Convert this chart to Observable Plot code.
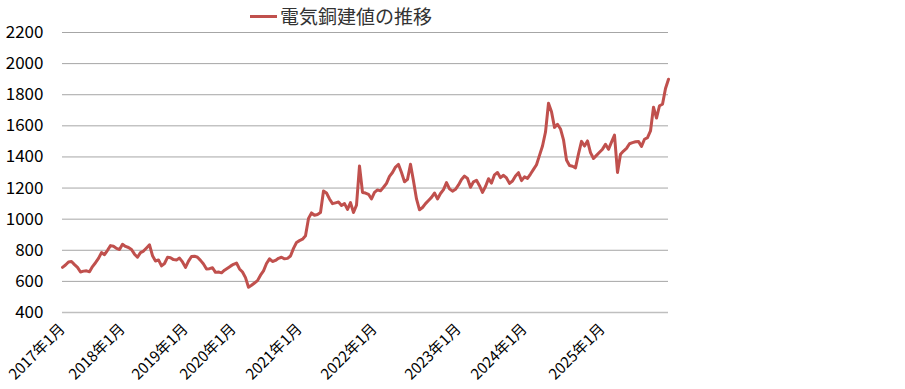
<!DOCTYPE html>
<html><head><meta charset="utf-8">
<script src="https://cdn.jsdelivr.net/npm/d3@7"></script>
<script src="https://cdn.jsdelivr.net/npm/@observablehq/plot@0.6"></script>
<style>
body{margin:0;background:#fff;font-family:"Noto Sans CJK JP","Noto Sans",sans-serif;}
#wrap{position:relative;width:905px;height:389px;}
#legend{position:absolute;left:250px;top:2px;height:28px;display:flex;align-items:center;font-size:19px;color:#333;line-height:28px;white-space:nowrap;}
#legend .sw{display:inline-block;width:27px;height:3px;background:#c0504d;margin-right:3px;}
#chart{position:absolute;left:0;top:0;}
</style></head><body>
<div id="wrap">
<div id="chart"></div>
<div id="legend"><span class="sw"></span><span>電気銅建値の推移</span></div>
</div>
<script>
const seriesName = "電気銅建値の推移";
const prices = [
690,705,725,728,708,690,660,666,668,662,
695,720,748,785,772,800,830,826,812,805,
838,825,818,805,775,755,785,795,815,835,
765,731,738,700,715,755,752,740,738,750,
725,690,730,760,762,755,735,712,680,682,
688,658,660,655,672,685,698,710,718,680,
660,624,562,575,590,605,640,668,715,745,
728,735,748,755,745,748,763,812,850,862,
871,893,1005,1040,1025,1030,1043,1181,1168,1130,
1100,1105,1110,1088,1100,1063,1106,1043,1090,1342,
1172,1168,1160,1130,1172,1188,1182,1205,1230,1275,
1300,1335,1352,1300,1240,1256,1353,1245,1130,1060,
1075,1100,1120,1140,1168,1130,1165,1190,1235,1195,
1180,1192,1220,1255,1277,1262,1205,1240,1250,1215,
1172,1210,1260,1232,1285,1300,1267,1282,1265,1230,
1245,1277,1299,1248,1272,1262,1290,1320,1350,1410,
1470,1560,1745,1690,1590,1610,1580,1510,1380,1345,
1340,1330,1420,1500,1470,1503,1428,1390,1410,1430,
1450,1481,1449,1495,1540,1300,1417,1438,1455,1485,
1492,1498,1500,1468,1514,1524,1567,1720,1650,1729,
1739,1840,1900
];
const xTickIndex = [0, 20, 41, 57, 79, 104, 132, 154, 180];
const xTickLabels = ["2017年1月","2018年1月","2019年1月","2020年1月","2021年1月","2022年1月","2023年1月","2024年1月","2025年1月"];
const yTicks = [400,600,800,1000,1200,1400,1600,1800,2000,2200];

const chart = Plot.plot({
  width: 905,
  height: 389,
  marginLeft: 62,
  marginRight: 237,
  marginTop: 32,
  marginBottom: 77,
  style: {fontFamily: '"Noto Sans CJK JP","Noto Sans",sans-serif', fontSize: "16px", color: "#000", background: "#fff"},
  x: {domain: [0, prices.length - 1]},
  y: {domain: [400, 2200]},
  marks: [
    Plot.ruleY(yTicks.slice(1), {stroke: "#a6a6a6", strokeWidth: 1}),
    Plot.ruleY([400], {stroke: "#bfbfbf", strokeWidth: 1.5}),
    Plot.axisY({ticks: yTicks, tickFormat: d => String(d), tickSize: 0, tickPadding: 19, label: null, fontSize: 17}),
    Plot.axisX({ticks: xTickIndex, tickFormat: d => xTickLabels[xTickIndex.indexOf(d)], tickRotate: -45, tickSize: 0, tickPadding: 8, dx: 0, dy: 6, label: null, fontSize: 15}),
    Plot.line(prices, {x: (d, i) => i, y: d => d, stroke: "#c0504d", strokeWidth: 3, strokeLinejoin: "round"})
  ]
});
document.getElementById("chart").appendChild(chart);
</script>
</body></html>
